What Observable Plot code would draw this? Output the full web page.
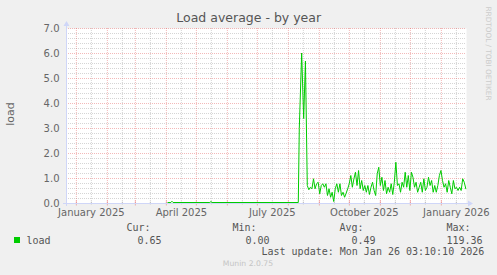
<!DOCTYPE html>
<html><head><meta charset="utf-8">
<script src="https://cdn.jsdelivr.net/npm/d3@7"></script>
<script src="https://cdn.jsdelivr.net/npm/@observablehq/plot@0.6"></script>
<style>
html,body{margin:0;padding:0;background:#F0F0F0;}
#chart{position:relative;width:497px;height:275px;overflow:hidden;}
svg{display:block;}
</style></head><body><div id="chart"></div>
<script>
const title = "Load average - by year";
const yLabel = "load";
const seriesName = "load";
const xDomain = ["2024-12-22T03:10:10Z", "2026-01-26T03:10:10Z"];
const xTickDates = ["2025-01-16", "2025-04-16", "2025-07-16", "2025-10-16", "2026-01-16"];
const xTickLabels = ["January 2025", "April 2025", "July 2025", "October 2025", "January 2026"];
const yTicks = [0, 1, 2, 3, 4, 5, 6, 7];
const legendHeads = ["Cur:", "Min:", "Avg:", "Max:"];
const legendValues = ["0.65", "0.00", "0.49", "119.36"];
const lastUpdate = "Last update: Mon Jan 26 03:10:10 2026";
const footer = "Munin 2.0.75";
const watermark = "RRDTOOL / TOBI OETIKER";

// first part: near-zero load, then the August spike
const earlyDates = ["2025-04-02T14:00Z","2025-04-05T12:00Z","2025-04-06T14:00Z","2025-04-07T16:00Z",
  "2025-05-14T12:00Z","2025-05-15T14:00Z","2025-05-16T16:00Z","2025-08-10T22:00Z",
  "2025-08-11T22:00Z","2025-08-14T07:00Z","2025-08-16T07:00Z","2025-08-18T02:00Z"];
const earlyValues = [0.04,0.04,0.09,0.04, 0.04,0.08,0.04,0.04, 3.0,6.02,3.4,5.7];

// noisy tail, one reading every tailStepHours
const tailStart = "2025-08-19T22:00Z";
const tailStepHours = 37.3;
const tailValues = [0.72,0.55,0.65,0.59,0.99,0.59,0.79,0.85,0.39,0.72,
  0.79,0.65,0.79,0.32,0.59,0.25,0.45,0.08,0.59,0.79,
  0.45,0.79,0.32,0.45,0.25,0.41,0.59,0.79,1.12,0.65,
  0.99,1.25,0.72,1.32,0.59,0.92,0.52,0.72,0.45,0.72,
  0.36,0.65,0.85,0.52,0.32,1.19,1.45,0.72,1.05,0.52,
  0.92,0.39,0.65,0.45,0.79,0.36,0.85,1.65,0.72,0.79,
  0.45,0.85,0.65,1.25,0.65,1.12,0.52,1.25,1.05,0.65,
  0.85,0.45,0.65,0.85,0.45,0.99,0.52,0.65,1.05,0.72,
  0.92,0.45,0.72,0.45,0.72,1.12,1.32,0.92,0.65,0.79,
  0.45,0.92,0.65,0.39,0.92,0.59,0.65,0.52,0.65,0.52,
  0.99,0.85,0.59];

const data = [
  ...earlyDates.map((d, i) => ({date: new Date(d), value: earlyValues[i]})),
  ...tailValues.map((v, i) => ({date: new Date(+new Date(tailStart) + i * tailStepHours * 3600e3), value: v}))
];

const x0 = new Date(xDomain[0]), x1 = new Date(xDomain[1]);
const monthStarts = d3.utcMonth.range(d3.utcMonth.ceil(x0), x1);
const midMonths = d3.utcMonth.range(d3.utcMonth.floor(x0), x1).map(d => d3.utcDay.offset(d, 15)).filter(d => d > x0 && d < x1);
const minorY = d3.range(1, 35).map(i => i / 5).filter(v => Math.abs(v - Math.round(v)) > 1e-6);
const majorY = [1, 2, 3, 4, 5, 6, 7];

const gridColor = "rgba(150,150,150,0.4)";
const mgridColor = "rgba(225,80,80,0.4)";
const axisColor = "#CFD6F8";
const lineColor = "#00CC00";
const fontColor = "#666666";

const chart = Plot.plot({
  width: 497, height: 275,
  marginLeft: 66, marginRight: 31, marginTop: 28, marginBottom: 72,
  style: {background: "#F0F0F0", fontFamily: "DejaVu Sans", fontSize: "10px", color: fontColor, overflow: "visible"},
  x: {type: "utc", domain: [x0, x1], ticks: xTickDates.map(d => new Date(d)),
      tickFormat: d => xTickLabels[xTickDates.findIndex(s => +new Date(s) === +d)],
      tickSize: 0, tickPadding: 5, label: null},
  y: {domain: [0, 7], ticks: yTicks, tickFormat: d => d.toFixed(1), tickSize: 0, tickPadding: 7, label: null},
  marks: [
    Plot.frame({fill: "white", stroke: null}),
    Plot.ruleY(minorY, {stroke: gridColor, strokeDasharray: "1,1"}),
    Plot.ruleX(midMonths, {stroke: gridColor, strokeDasharray: "1,1", y1: 0, y2: 7}),
    Plot.ruleX(midMonths, {stroke: gridColor, y1: -0.06, y2: 0.06}),
    Plot.ruleY(majorY, {stroke: mgridColor, strokeDasharray: "1,1"}),
    Plot.ruleX(monthStarts, {stroke: mgridColor, strokeDasharray: "1,1", y1: 0, y2: 7}),
    Plot.ruleX(monthStarts, {stroke: mgridColor, y1: -0.1, y2: 0.1}),
    Plot.line(data, {x: "date", y: "value", stroke: lineColor, strokeWidth: 1})
  ]
});

document.getElementById("chart").appendChild(chart);
const svg = d3.select(chart);
const xs = chart.scale("x"), ys = chart.scale("y");
const pLeft = xs.apply(x0), pRight = xs.apply(x1), pBottom = ys.apply(0), pTop = ys.apply(7);

// axes with arrows
svg.append("line").attr("x1", pLeft - 3).attr("x2", pRight + 3).attr("y1", pBottom + 0.5).attr("y2", pBottom + 0.5).attr("stroke", axisColor);
svg.append("line").attr("x1", pLeft + 0.5).attr("x2", pLeft + 0.5).attr("y1", pBottom + 3).attr("y2", pTop - 3).attr("stroke", axisColor);
svg.append("path").attr("d", `M${pRight + 2},${pBottom - 2.5}L${pRight + 7},${pBottom + 0.5}L${pRight + 2},${pBottom + 3.5}Z`).attr("fill", axisColor);
svg.append("path").attr("d", `M${pLeft - 2.5},${pTop - 2}L${pLeft + 0.5},${pTop - 7}L${pLeft + 3.5},${pTop - 2}Z`).attr("fill", axisColor);

const txt = (x, y, s, o = {}) => svg.append("text").attr("x", x).attr("y", y).text(s)
  .attr("fill", o.fill || fontColor).attr("font-family", o.family || "DejaVu Sans")
  .attr("font-size", o.size || 10).attr("text-anchor", o.anchor || "start");

txt(248.7, 22, title, {size: 12.5, anchor: "middle", fill: "#555"});
txt(0, 0, yLabel, {size: 11, anchor: "middle"}).attr("transform", "translate(13.5,114) rotate(-90)");
txt(0, 0, watermark, {size: 7.3, anchor: "middle", fill: "#cccccc"}).attr("dominant-baseline", "middle").attr("transform", "translate(488,53.5) rotate(90)");

const mono = "DejaVu Sans Mono";
const headX = [126.5, 232.5, 339.5, 446.5];
const valX = [137.5, 245.5, 351.5, 446.5];
legendHeads.forEach((h, i) => txt(headX[i], 231.3, h, {family: mono, fill: "#555"}));
legendValues.forEach((v, i) => txt(valX[i], 243.6, v, {family: mono, fill: "#555"}));
svg.append("rect").attr("x", 14).attr("y", 237).attr("width", 6).attr("height", 6).attr("fill", lineColor);
txt(26.5, 243.6, seriesName, {family: mono, fill: "#555"});
txt(261.5, 255.3, lastUpdate, {family: mono, fill: "#555"});
txt(248, 266, footer, {size: 7.7, anchor: "middle", fill: "#c4c4c4"});
</script></body></html>
